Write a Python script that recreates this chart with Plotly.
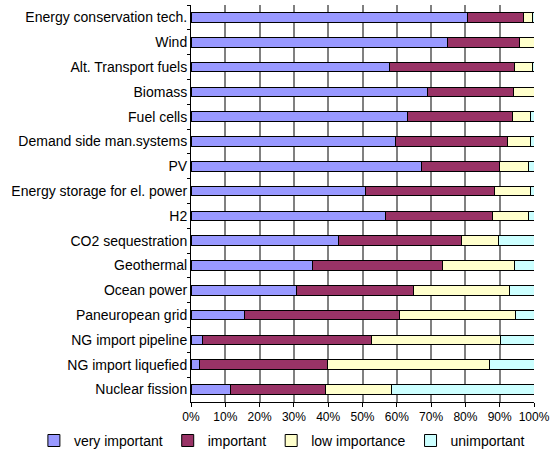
import plotly.graph_objects as go

categories = [
    "Energy conservation tech.", "Wind", "Alt. Transport fuels", "Biomass",
    "Fuel cells", "Demand side man.systems", "PV", "Energy storage for el. power",
    "H2", "CO2 sequestration", "Geothermal", "Ocean power", "Paneuropean grid",
    "NG import pipeline", "NG import liquefied", "Nuclear fission",
]
very_important = [80.7, 74.7, 57.9, 68.9, 63.1, 59.6, 67.2, 50.9, 56.6, 43.0, 35.4, 30.8, 15.7, 3.4, 2.4, 11.4]
important      = [16.2, 21.0, 36.3, 25.2, 30.7, 32.7, 22.7, 37.7, 31.3, 35.8, 37.9, 34.2, 45.2, 49.3, 37.5, 27.8]
low_importance = [2.6, 4.3, 5.3, 5.9, 5.2, 6.7, 8.4, 10.3, 10.4, 10.8, 21.1, 27.8, 33.7, 37.5, 47.1, 19.3]
unimportant    = [0.5, 0.0, 0.5, 0.0, 1.0, 1.0, 1.7, 1.1, 1.7, 10.4, 5.6, 7.2, 5.4, 9.8, 13.0, 41.5]
x_ticks = [0, 10, 20, 30, 40, 50, 60, 70, 80, 90, 100]
x_tick_labels = ["0%", "10%", "20%", "30%", "40%", "50%", "60%", "70%", "80%", "90%", "100%"]

series = [
    ("very important", very_important, "#9999FF"),
    ("important", important, "#993366"),
    ("low importance", low_importance, "#FFFFCC"),
    ("unimportant", unimportant, "#CCFFFF"),
]

fig = go.Figure()
for name, vals, color in series:
    fig.add_trace(go.Bar(
        y=categories, x=vals, name=name, orientation="h",
        marker=dict(color=color, line=dict(color="black", width=1)),
    ))

font = "Liberation Sans, Arial, sans-serif"
fig.update_layout(
    width=554, height=453,
    barmode="stack", bargap=0.61,
    paper_bgcolor="white", plot_bgcolor="white",
    margin=dict(l=191, r=20, t=5, b=51, autoexpand=False),
    font=dict(family=font, size=14, color="black"),
    showlegend=True,
    legend=dict(
        orientation="h", x=-0.458, xanchor="left",
        y=-0.098, yanchor="middle",
        font=dict(size=14, color="black"), itemwidth=30, traceorder="normal",
        bgcolor="rgba(0,0,0,0)",
    ),
    xaxis=dict(
        range=[0, 100], tickvals=x_ticks, ticktext=x_tick_labels,
        showgrid=True, gridcolor="#808080", gridwidth=1.5,
        showline=True, linecolor="black", linewidth=1,
        ticks="outside", ticklen=4, tickcolor="black",
        tickfont=dict(size=12), zeroline=False, automargin=False,
    ),
    yaxis=dict(
        autorange="reversed", showline=True, linecolor="black", linewidth=1,
        ticks="outside", ticklen=3, tickcolor="black", tickson="boundaries",
        showgrid=False, tickfont=dict(size=14), automargin=False,
    ),
)

fig.write_html(
    "out.html",
    config={"displayModeBar": False},
    post_script="document.body.style.margin='0';document.body.style.overflow='hidden';",
)
